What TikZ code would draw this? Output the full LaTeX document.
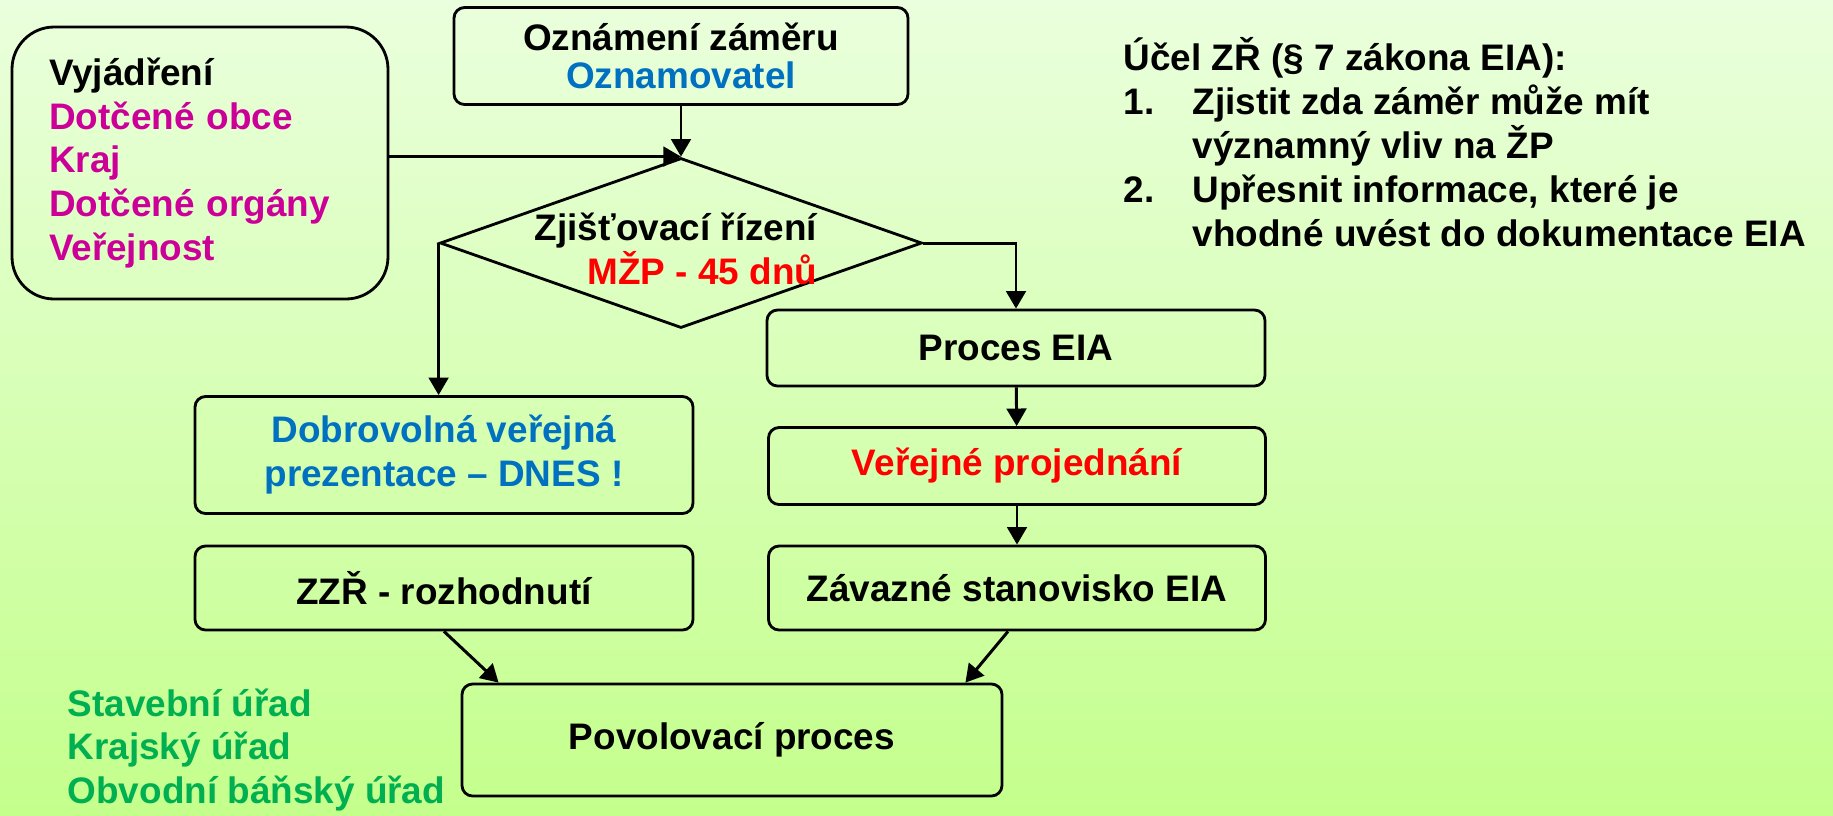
\documentclass[tikz,border=0pt]{standalone}
\usepackage{fontspec}
\setmainfont{Liberation Sans}
\usepackage{xcolor}
\usepackage{tikz}
\usetikzlibrary{shapes.geometric, arrows.meta}
\definecolor{bgtop}{RGB}{234,255,221}
\definecolor{bgbot}{RGB}{196,255,140}
\definecolor{magentatxt}{RGB}{204,0,153}
\definecolor{bluetxt}{RGB}{0,112,192}
\definecolor{greentxt}{RGB}{0,176,80}
\tikzstyle{txt} = [font=\bfseries\fontsize{10.5}{12.5}\selectfont]
\tikzstyle{box} = [txt, rectangle, rounded corners=3pt, draw=black, line width=0.8pt, text centered, align=center]
\tikzstyle{bigbox} = [txt, rectangle, rounded corners=12pt, draw=black, line width=0.8pt, align=left]
\tikzstyle{decision} = [diamond, draw=black, line width=0.8pt, inner sep=0pt]
\tikzstyle{arrow} = [line width=0.85pt,-{Triangle[length=5pt,width=5.6pt]}]

\begin{document}
\begin{tikzpicture}[x=0.1mm, y=-0.1mm]
      \shade [top color=bgtop, bottom color=bgbot] (0,0) rectangle (1833,815);
      \useasboundingbox (0,0) rectangle (1833,815);
      \node (vyj) [bigbox, minimum width=37.6mm, minimum height=27.2mm, text width=30.2mm, inner xsep=3.7mm] at (200,163) {Vyjádření\\\textcolor{magentatxt}{Dotčené obce}\\\textcolor{magentatxt}{Kraj}\\\textcolor{magentatxt}{Dotčené orgány}\\\textcolor{magentatxt}{Veřejnost}};
      \node (ozn) [box, minimum width=45.4mm, minimum height=9.7mm, font=\bfseries\fontsize{10.5}{10.8}\selectfont] at (681,56) {Oznámení záměru\\\textcolor{bluetxt}{Oznamovatel}};
      \node (zr) [decision, minimum width=48.2mm, minimum height=17mm] at (681,243) {};
      \node (zrtxt) [txt, align=right, inner sep=0pt, font=\bfseries\fontsize{10.5}{10}\selectfont] at (676,249) {Zjišťovací řízení\\\textcolor{red}{MŽP - 45 dnů}};
      \node (proc) [box, minimum width=49.8mm, minimum height=7.6mm] at (1016,348) {Proces EIA};
      \node (dob) [box, minimum width=49.8mm, minimum height=11.7mm, text=bluetxt] at (444,455) {Dobrovolná veřejná\\prezentace – DNES !};
      \node (ver) [box, minimum width=49.7mm, minimum height=7.7mm, text=red] at (1017,466) {Veřejné projednání};
      \node (zzr) [box, minimum width=49.8mm, minimum height=8.4mm] at (444,588) {ZZŘ - rozhodnutí};
      \node (zav) [box, minimum width=49.7mm, minimum height=8.4mm] at (1017,588) {Závazné stanovisko EIA};
      \node (pov) [box, minimum width=54mm, minimum height=11.2mm] at (732,740) {Povolovací proces};
      \node (urady) [txt, align=left, inner sep=0pt, anchor=west, text=greentxt] at (67,750) {Stavební úřad\\Krajský úřad\\Obvodní báňský úřad};
      \node (ucel) [txt, align=left, inner sep=0pt, anchor=north west] at (1123,37) {Účel ZŘ (§ 7 zákona EIA):\\\makebox[6.9mm][l]{1.}Zjistit zda záměr může mít\\\hspace*{6.9mm}významný vliv na ŽP\\\makebox[6.9mm][l]{2.}Upřesnit informace, které je\\\hspace*{6.9mm}vhodné uvést do dokumentace EIA};
      \draw [arrow] (ozn.south) -- (zr.north);
      \draw [arrow] (vyj.east |- zr.north) -- (zr.north);
      \draw [arrow] (zr.west) -- (zr.west |- dob.north);
      \draw [arrow] (zr.east) -| (proc.north);
      \draw [arrow] (proc) -- (ver);
      \draw [arrow] (ver) -- (zav);
      \draw [arrow] (zzr.south) -- ([xshift=3.8mm]pov.north west);
      \draw [arrow] ([xshift=-0.9mm]zav.south) -- ([xshift=-3.8mm]pov.north east);
    \end{tikzpicture}
\end{document}
